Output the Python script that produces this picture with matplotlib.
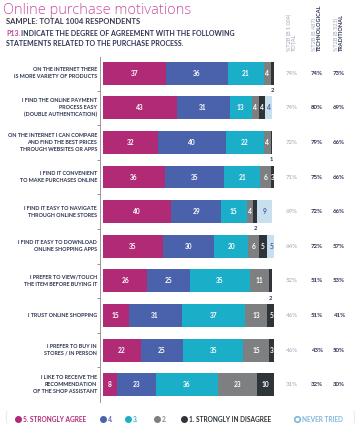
import matplotlib
matplotlib.use("Agg")
import matplotlib.pyplot as plt
import matplotlib.transforms as mtransforms
from matplotlib.lines import Line2D

plt.rcParams['font.family'] = ['Lato', 'DejaVu Sans']

# data
statements = [
    "ON THE INTERNET THERE\nIS MORE VARIETY OF PRODUCTS",
    "I FIND THE ONLINE PAYMENT\nPROCESS EASY\n(DOUBLE AUTHENTICATION)",
    "ON THE INTERNET I CAN COMPARE\nAND FIND THE BEST PRICES\nTHROUGH WEBSITES OR APPS",
    "I FIND IT CONVENIENT\nTO MAKE PURCHASES ONLINE",
    "I FIND IT EASY TO NAVIGATE\nTHROUGH ONLINE STORES",
    "I FIND IT EASY TO DOWNLOAD\nONLINE SHOPPING APPS",
    "I PREFER TO VIEW/TOUCH\nTHE ITEM BEFORE BUYING IT",
    "I TRUST ONLINE SHOPPING",
    "I PREFER TO BUY IN\nSTORES / IN PERSON",
    "I LIKE TO RECEIVE THE\nRECOMMENDATION\nOF THE SHOP ASSISTANT",
]
agree5 = [37, 43, 32, 36, 40, 35, 26, 15, 22, 8]
agree4 = [36, 31, 40, 35, 29, 30, 25, 31, 25, 23]
agree3 = [21, 13, 22, 21, 15, 20, 35, 37, 35, 36]
agree2 = [4, 4, 4, 6, 4, 6, 11, 13, 15, 23]
agree1 = [2, 4, 1, 3, 2, 5, 2, 5, 3, 10]
never_tried = [0, 4, 0, 0, 9, 5, 0, 0, 0, 0]
t2b_total = ["74%", "74%", "72%", "71%", "69%", "64%", "52%", "46%", "46%", "31%"]
t2b_tech = ["74%", "80%", "79%", "75%", "72%", "72%", "51%", "51%", "43%", "32%"]
t2b_trad = ["73%", "69%", "66%", "66%", "66%", "57%", "53%", "41%", "50%", "30%"]

series = [agree5, agree4, agree3, agree2, agree1, never_tried]
names = ["5. STRONGLY AGREE", "4.", "3.", "2.", "1. STRONGLY IN DISAGREE", "NEVER TRIED"]
colors = ["#B02A76", "#4A62AC", "#1BAEC9", "#7D7F80", "#2E3438", "#C8E0EE"]
navy = "#2D3352"
pink = "#C2429A"

fig = plt.figure(figsize=(3.6, 4.26), dpi=100)
W, H = 360, 426

ax = fig.add_axes([103 / W, (H - 402) / H, 171 / W, 345 / H])
rows = list(range(len(statements)))
left = [0] * len(rows)
for k, (vals, col) in enumerate(zip(series, colors)):
    ax.barh(rows, vals, left=left, height=0.66, color=col, edgecolor="none")
    for i, v in enumerate(vals):
        if v == 0:
            continue
        if v <= 2:
            ax.text(left[i] + v / 2, i + 0.5, str(v), ha="center", va="center",
                    fontsize=4.2, fontweight="bold", color=navy)
        else:
            tc = "#4A62AC" if k == 5 else "white"
            ax.text(left[i] + v / 2, i, str(v), ha="center", va="center",
                    fontsize=4.8, fontweight="bold", color=tc)
    left = [l + v for l, v in zip(left, vals)]

ax.set_xlim(0, 100)
ax.set_ylim(9.5, -0.47)
for s in ["top", "right", "bottom"]:
    ax.spines[s].set_visible(False)
ax.spines["left"].set_position(("outward", 2))
ax.spines["left"].set_color("#888888")
ax.spines["left"].set_linewidth(0.6)
ax.set_xticks([])
ax.set_yticks([r + 0.5 for r in rows[:-1]])
ax.set_yticklabels([])
ax.tick_params(axis="y", length=2.5, width=0.6, color="#888888")

trans = mtransforms.blended_transform_factory(ax.transAxes, ax.transData)
for i, lab in enumerate(statements):
    ax.text(-0.035, i, lab, transform=trans, ha="right", va="center",
            fontsize=3.9, fontweight="bold", color=navy, linespacing=1.45)
    ax.text(1.105, i, t2b_total[i], transform=trans, ha="center", va="center",
            fontsize=4.4, color="#A3A3B8")
    ax.text(1.25, i, t2b_tech[i], transform=trans, ha="center", va="center",
            fontsize=4.4, fontweight="bold", color=navy)
    ax.text(1.38, i, t2b_trad[i], transform=trans, ha="center", va="center",
            fontsize=4.4, fontweight="bold", color=navy)

# titles
fig.text(3 / W, 1 - 11 / H, "Online purchase motivations", fontsize=10.5,
         family=["Open Sans", "DejaVu Sans"], fontweight="light",
         color="#C9519F", va="center", ha="left")
fig.text(6 / W, 1 - 22 / H, "SAMPLE: TOTAL 1004 RESPONDENTS", fontsize=5.5,
         fontweight="bold", color="#3A3A4A", va="center", ha="left")
fig.text(6 / W, 1 - 34 / H, "P13.", fontsize=5, fontweight="bold",
         color=pink, va="center", ha="left")
fig.text(21 / W, 1 - 34 / H, "INDICATE THE DEGREE OF AGREEMENT WITH THE FOLLOWING",
         fontsize=5, fontweight="bold", color=navy, va="center", ha="left")
fig.text(6 / W, 1 - 44 / H, "STATEMENTS RELATED TO THE PURCHASE PROCESS.",
         fontsize=5, fontweight="bold", color=navy, va="center", ha="left")

# rotated column headers
heads = [("%T2B (B 1 004)", "TOTAL", 292, "#A3A3B8", "normal"),
         ("%T2B (B 487)", "TECHNOLOGICAL", 317, navy, "bold"),
         ("%T2B (B 523)", "TRADITIONAL", 339, navy, "bold")]
for top, bottom, x, c, w in heads:
    fig.text((x - 3) / W, 1 - 51 / H, top, rotation=90, fontsize=4,
             color="#A3A3B8", ha="center", va="bottom")
    fig.text((x + 2) / W, 1 - 51 / H, bottom, rotation=90, fontsize=4,
             color=c, fontweight=w, ha="center", va="bottom")

# legend, placed item by item
leg_x = [18, 103, 128, 157, 184, 297]
text_cols = [colors[0], "#5C6FB0", "#3BB5CC", "#8A8C8E", colors[4], "#7FB6DA"]
ly = 1 - 419 / H
for k, (n, x) in enumerate(zip(names, leg_x)):
    if k == 5:
        m = Line2D([x / W], [ly], marker="o", ls="none", markersize=4,
                   markerfacecolor="white", markeredgecolor="#7FB6DA",
                   markeredgewidth=1.2, transform=fig.transFigure)
    else:
        m = Line2D([x / W], [ly], marker="o", ls="none", markersize=4,
                   color=colors[k], transform=fig.transFigure)
    fig.add_artist(m)
    fig.text((x + 5) / W, ly, n, fontsize=4.7, fontweight="bold",
             color=text_cols[k], va="center", ha="left")
fig.text(4 / W, ly, "{", fontsize=10, color="#888888", va="center",
         ha="left", fontweight="light")
fig.text(351 / W, ly, "}", fontsize=10, color="#888888", va="center",
         ha="left", fontweight="light")

fig.savefig("out.png", dpi=100)
